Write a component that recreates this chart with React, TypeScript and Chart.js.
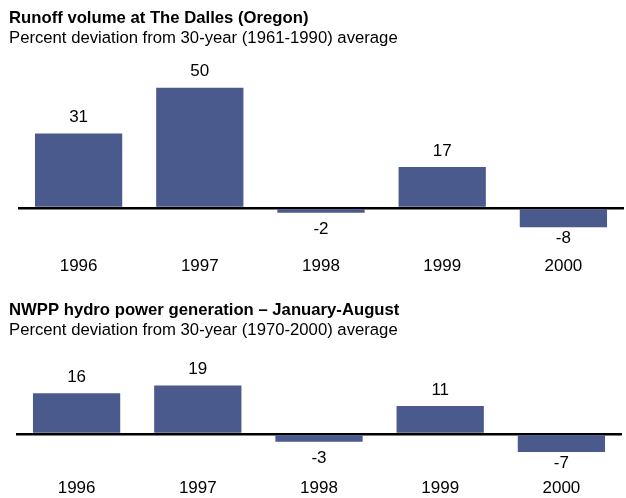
import React, { useEffect, useRef } from 'react';
import { Chart, registerables } from 'chart.js';

Chart.register(...registerables);

const years = ['1996', '1997', '1998', '1999', '2000'];
const runoffValues = [31, 50, -2, 17, -8];
const hydroValues = [16, 19, -3, 11, -7];
const runoffTitle = 'Runoff volume at The Dalles (Oregon)';
const runoffSubtitle = 'Percent deviation from 30-year (1961-1990) average';
const hydroTitle = 'NWPP hydro power generation – January-August';
const hydroSubtitle = 'Percent deviation from 30-year (1970-2000) average';

const FONT = "'Liberation Sans', Arial, Helvetica, sans-serif";
const BAR_COLOR = '#4A5A8C';

const valueLabels = {
  id: 'valueLabels',
  afterDatasetsDraw(chart: any) {
    const ctx = chart.ctx;
    const meta = chart.getDatasetMeta(0);
    const data = chart.data.datasets[0].data as number[];
    ctx.save();
    ctx.font = `17px ${FONT}`;
    ctx.fillStyle = '#000';
    ctx.textAlign = 'center';
    ctx.textBaseline = 'middle';
    meta.data.forEach((el: any, i: number) => {
      const v = data[i];
      const { x, y, base } = el.getProps(['x', 'y', 'base'], true);
      const h = Math.abs(y - base);
      const ty = v >= 0 ? y - 16 : y + (h < 12 ? 17 : 11.5);
      ctx.fillText(String(v), x, ty);
    });
    ctx.restore();
  },
};

type PanelProps = {
  top: number;
  height: number;
  labels: string[];
  values: number[];
  title: string;
  subtitle: string;
  min: number;
  max: number;
  step: number;
  axisLeft: number;
  padRight: number;
  padBottom: number;
  subtitleGap: number;
};

function Panel(p: PanelProps) {
  const ref = useRef<HTMLCanvasElement | null>(null);
  useEffect(() => {
    if (!ref.current) return;
    const chart = new Chart(ref.current, {
      type: 'bar',
      data: {
        labels: p.labels,
        datasets: [
          {
            data: p.values,
            backgroundColor: BAR_COLOR,
            borderWidth: 0,
            barPercentage: 0.72,
            categoryPercentage: 1,
          },
        ],
      },
      options: {
        responsive: false,
        animation: false,
        layout: { padding: { left: 9, right: p.padRight, top: 0, bottom: p.padBottom } },
        plugins: {
          legend: { display: false },
          tooltip: { enabled: false },
          title: {
            display: true,
            text: p.title,
            align: 'start',
            color: '#000',
            font: { family: FONT, size: 16.7, weight: 'bold', lineHeight: 1.2 },
            padding: { top: 8, bottom: 0 },
          },
          subtitle: {
            display: true,
            text: p.subtitle,
            align: 'start',
            color: '#000',
            font: { family: FONT, size: 16.7, weight: 'normal', lineHeight: 1.2 },
            padding: { top: 0, bottom: p.subtitleGap },
          },
        },
        scales: {
          x: {
            grid: { display: false, drawTicks: false },
            border: { display: false },
            ticks: {
              color: '#000',
              font: { family: FONT, size: 17, lineHeight: 1.2 },
              padding: 11.8,
              maxRotation: 0,
            },
          },
          y: {
            z: 1,
            min: p.min,
            max: p.max,
            border: { display: false },
            ticks: { display: false, stepSize: p.step },
            grid: {
              drawTicks: false,
              color: (c: any) => (c.tick && c.tick.value === 0 ? '#000' : 'rgba(0,0,0,0)'),
              lineWidth: (c: any) => (c.tick && c.tick.value === 0 ? 2.5 : 0),
            },
            afterFit: (s: any) => {
              s.width = p.axisLeft;
            },
          },
        },
      },
      plugins: [valueLabels],
    } as any);
    return () => chart.destroy();
  }, []);
  return (
    <canvas
      ref={ref}
      width={626}
      height={p.height}
      style={{ position: 'absolute', left: 0, top: p.top, width: 626, height: p.height, display: 'block' }}
    />
  );
}

export default function App() {
  return (
    <div
      style={{
        position: 'absolute',
        left: 0,
        top: 0,
        width: 626,
        height: 498,
        overflow: 'hidden',
        background: '#fff',
      }}
    >
      <Panel
        top={0}
        height={288}
        labels={years}
        values={runoffValues}
        title={runoffTitle}
        subtitle={runoffSubtitle}
        min={-15}
        max={60}
        step={5}
        axisLeft={9}
        padRight={2}
        padBottom={0}
        subtitleGap={15.6}
      />
      <Panel
        top={292}
        height={218}
        labels={years}
        values={hydroValues}
        title={hydroTitle}
        subtitle={hydroSubtitle}
        min={-12.5}
        max={30}
        step={2.5}
        axisLeft={7}
        padRight={4}
        padBottom={0}
        subtitleGap={17.4}
      />
    </div>
  );
}
